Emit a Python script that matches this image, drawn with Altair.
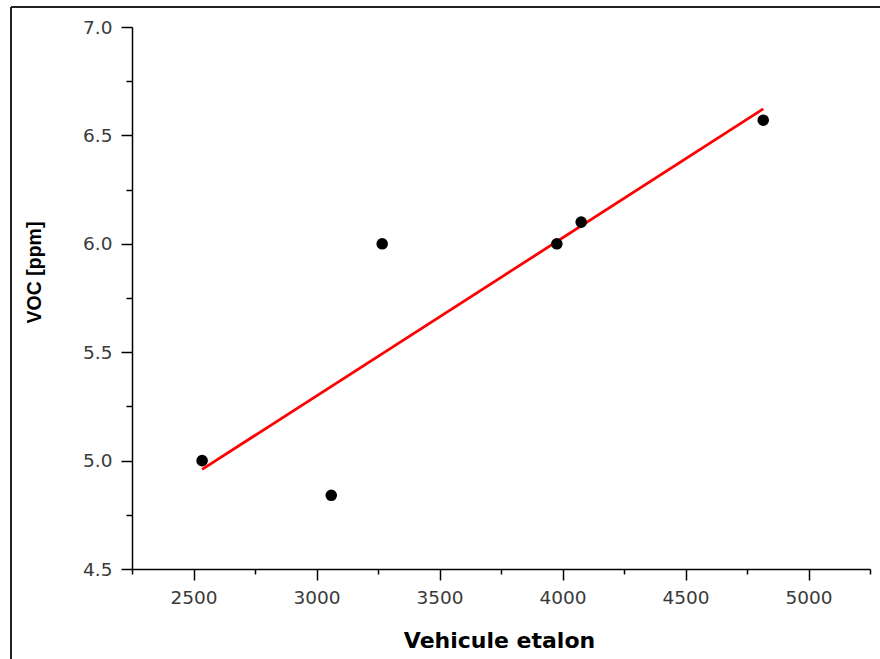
import altair as alt
import pandas as pd

# Data
vehicule = [2535, 3060, 3267, 3977, 4076, 4816]
voc = [5.0, 4.84, 6.0, 6.0, 6.1, 6.57]

x_ticks = [2250, 2500, 2750, 3000, 3250, 3500, 3750, 4000, 4250, 4500, 4750, 5000, 5250]
y_ticks = [4.5, 4.75, 5.0, 5.25, 5.5, 5.75, 6.0, 6.25, 6.5, 6.75, 7.0]

df = pd.DataFrame({"x": vehicule, "y": voc})

LABEL_FONT = "DejaVu Sans"

x_axis = alt.Axis(
    values=x_ticks,
    format="d",
    labelExpr="datum.value % 500 === 0 ? datum.label : ''",
    labelFont=LABEL_FONT,
    labelFontSize=18.5,
    labelColor="#3a3a3a",
    labelPadding=8,
    labelOverlap=False,
    tickSize={"condition": {"test": "datum.value % 500 === 0", "value": 11}, "value": 5},
    tickColor="black",
    tickWidth=1.5,
    domainColor="black",
    domainWidth=1.5,
    grid=False,
    title="Vehicule etalon",
    titleFont="DejaVu Sans",
    titleFontSize=22,
    titleFontWeight="bold",
    titleColor="black",
    titleX=367,
    titleY=78,
    titleAlign="center",
    titleBaseline="alphabetic",
)

y_axis = alt.Axis(
    values=y_ticks,
    format=".1f",
    labelExpr="datum.value % 0.5 === 0 ? datum.label : ''",
    labelFont=LABEL_FONT,
    labelFontSize=18.5,
    labelColor="#3a3a3a",
    labelPadding=9,
    labelOverlap=False,
    tickSize={"condition": {"test": "datum.value % 0.5 === 0", "value": 11}, "value": 6},
    tickColor="black",
    tickWidth=1.5,
    domainColor="black",
    domainWidth=1.5,
    grid=False,
    title="VOC [ppm]",
    titleFont="Liberation Sans",
    titleFontSize=19.5,
    titleFontWeight="bold",
    titleColor="black",
    titleAngle=-90,
    titleX=-92,
    titleY=245,
    titleAlign="center",
    titleBaseline="alphabetic",
)

x_enc = alt.X("x:Q", scale=alt.Scale(domain=[2250, 5250], nice=False, zero=False), axis=x_axis)
y_enc = alt.Y("y:Q", scale=alt.Scale(domain=[4.5, 7.0], nice=False, zero=False), axis=y_axis)

points = alt.Chart(df).mark_point(filled=True, color="black", opacity=1, size=135).encode(
    x=x_enc, y=y_enc
)

fit = alt.Chart(df).transform_regression("x", "y").mark_line(
    color="#ff0000", strokeWidth=2.8
).encode(x="x:Q", y="y:Q")

frame_data = alt.Data(values=[{"a": 0}])
frame_top = alt.Chart(frame_data).mark_rule(color="#222222", strokeWidth=2).encode(
    x=alt.value(-121), x2=alt.value(760), y=alt.value(-20)
)
frame_left = alt.Chart(frame_data).mark_rule(color="#222222", strokeWidth=2).encode(
    x=alt.value(-121), y=alt.value(-20), y2=alt.value(640)
)

chart = alt.layer(fit, points, frame_top, frame_left).properties(
    width=738,
    height=542,
    padding={"left": 132, "top": 27, "right": 10, "bottom": 90},
    autosize=alt.AutoSizeParams(type="none"),
    background="white",
).configure_view(stroke=None)

chart.save("out.html", embed_options={"renderer": "svg", "actions": False})
